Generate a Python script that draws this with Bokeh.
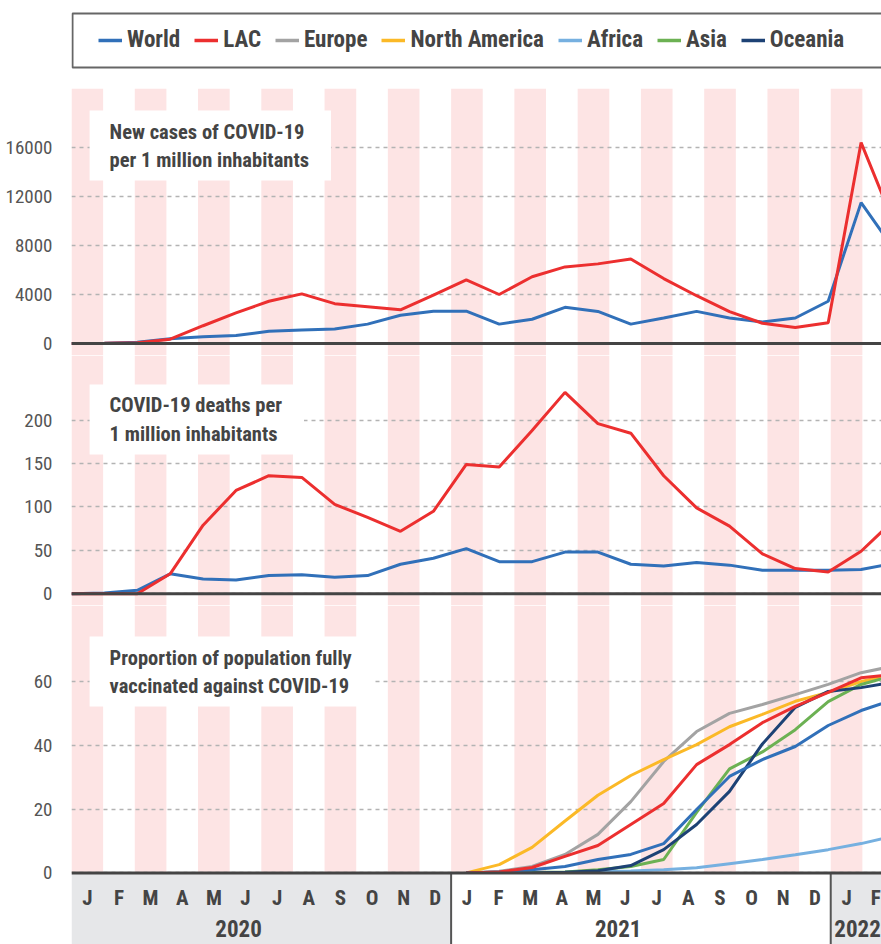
from bokeh.plotting import figure
from bokeh.layouts import column
from bokeh.models import Range1d, FixedTicker, Span, Label, Legend, LegendItem
from bokeh.embed import file_html
from bokeh.resources import INLINE
from bokeh.core.properties import value

FONT = "Roboto Condensed, DejaVu Sans Condensed, Liberation Sans Narrow, Roboto"

# ---------------- data ----------------
month_letters = ["J", "F", "M", "A", "M", "J", "J", "A", "S", "O", "N", "D",
                 "J", "F", "M", "A", "M", "J", "J", "A", "S", "O", "N", "D",
                 "J", "F"]
month_years = ["2020"] * 12 + ["2021"] * 12 + ["2022"] * 2
years = ["2020", "2021", "2022"]

cases_world = [0, 30, 100, 380, 550, 650, 1000, 1100, 1180, 1580, 2300, 2640,
               2640, 1580, 1980, 2950, 2620, 1580, 2080, 2620, 2080, 1750, 2080, 3450,
               11500, 7700]
cases_lac = [0, 10, 60, 350, 1450, 2500, 3450, 4050, 3250, 3000, 2750, 3950,
             5200, 4000, 5450, 6250, 6500, 6900, 5300, 3900, 2600, 1650, 1300, 1700,
             16400, 9800]

deaths_world = [0, 1, 4, 23, 17, 16, 21, 22, 19, 21, 34, 41,
                52, 37, 37, 48, 48, 34, 32, 36, 33, 27, 27, 27,
                28, 35]
deaths_lac = [0, 0, 0, 23, 79, 119, 136, 134, 103, 88, 72, 95,
              149, 146, 188, 232, 196, 185, 136, 99, 78, 46, 29, 25,
              49, 85]

NO_DATA_2020 = [None] * 12
vax_world = NO_DATA_2020 + [0, 0.3, 1.0, 2.0, 4.2, 5.8, 9.2, 19.9, 30.3, 35.6, 39.7, 46.3, 51.0, 54.5]
vax_lac = NO_DATA_2020 + [0, 0.3, 1.7, 5.2, 8.6, 15.2, 21.8, 34.0, 40.3, 47.2, 52.3, 56.7, 61.3, 62.3]
vax_europe = NO_DATA_2020 + [0, 0.5, 2.0, 5.8, 12.1, 22.4, 35.0, 44.4, 50.1, 52.9, 56.0, 59.2, 62.9, 65.0]
vax_north_america = NO_DATA_2020 + [0, 2.6, 8.0, 16.3, 24.4, 30.6, 35.6, 40.3, 45.9, 49.8, 53.9, 56.7, 60.1, 62.5]
vax_africa = NO_DATA_2020 + [0, 0, 0.1, 0.2, 0.4, 0.6, 1.0, 1.6, 2.9, 4.2, 5.7, 7.3, 9.2, 11.6]
vax_asia = NO_DATA_2020 + [0, 0, 0.1, 0.3, 1.0, 2.0, 4.2, 19.0, 32.7, 38.0, 45.0, 53.8, 59.2, 62.0]
vax_oceania = NO_DATA_2020 + [0, 0, 0, 0.2, 0.7, 2.3, 7.3, 15.2, 25.6, 40.5, 52.0, 57.0, 58.2, 60.0]

series_names = ["World", "LAC", "Europe", "North America", "Africa", "Asia", "Oceania"]
cases_ticks = [0, 4000, 8000, 12000, 16000]
deaths_ticks = [0, 50, 100, 150, 200]
vax_ticks = [0, 20, 40, 60]

# ---------------- style ----------------
COLORS = {
    "World": "#3170b9",
    "LAC": "#ec2f2f",
    "Europe": "#a3a3a3",
    "North America": "#fbb927",
    "Africa": "#76b0e0",
    "Asia": "#6cb153",
    "Oceania": "#1d4275",
}
PINK = "#fde4e4"
TXT = "#444444"
W = 881
LEFT = 71

n = len(month_letters)
x_idx = list(range(n))
span = n - 1
bw = span / n  # stripe / category bin width, in line units
x_range = Range1d(0, (W - LEFT) / 32.9)


def nan(v):
    return [float("nan") if a is None else a for a in v]


def panel(height, y0, y1, ticks, title_text, title_y, stripe_bottom=None):
    p = figure(width=W, height=height, x_range=x_range, y_range=Range1d(y0, y1),
               output_backend="svg", toolbar_location=None,
               x_axis_location=None, y_axis_location="left",
               min_border_left=LEFT, min_border_right=0,
               min_border_top=0, min_border_bottom=0)
    p.outline_line_color = None
    sb = y0 if stripe_bottom is None else stripe_bottom
    lefts = [k * bw for k in range(0, n, 2)]
    rights = [(k + 1) * bw for k in range(0, n, 2)]
    p.quad(left=lefts, right=rights, bottom=sb, top=y1, fill_color=PINK,
           line_color=None, level="image")
    ax = p.yaxis[0]
    ax.ticker = FixedTicker(ticks=ticks)
    ax.axis_line_color = None
    ax.major_tick_line_color = None
    ax.minor_tick_line_color = None
    ax.major_tick_in = 0
    ax.major_tick_out = 0
    ax.major_label_standoff = 19
    ax.major_label_text_font = FONT
    ax.major_label_text_font_size = "19px"
    ax.major_label_text_color = "#555555"
    p.xgrid.visible = False
    p.ygrid.grid_line_color = "#b3b3b3"
    p.ygrid.grid_line_dash = "4 4"
    p.ygrid.grid_line_width = 1.5
    p.add_layout(Span(location=0, dimension="width", line_color=TXT, line_width=3))
    p.add_layout(Label(x=0.55, y=title_y, text=title_text, text_align="left",
                       text_baseline="top", text_font=FONT, text_font_size="20.5px",
                       text_font_style="bold", text_color=TXT, text_line_height=1.17,
                       background_fill_color="white",
                       padding=dict(left=20, right=22, top=9, bottom=9)))
    return p


# ---------------- legend strip ----------------
pl = figure(width=W, height=88, x_range=Range1d(0, W - LEFT), y_range=Range1d(0, 88),
            output_backend="svg", toolbar_location=None,
            x_axis_location=None, y_axis_location=None,
            min_border_left=LEFT, min_border_right=0, min_border_top=0, min_border_bottom=0)
pl.outline_line_color = None
pl.xgrid.visible = False
pl.ygrid.visible = False
pl.quad(left=1, right=W, bottom=21, top=75, fill_color=None,
        line_color="#666666", line_width=2)
items = []
for name in series_names:
    r = pl.line(x=[float("nan"), float("nan")], y=[float("nan"), float("nan")],
                line_color=COLORS[name], line_width=3.5)
    items.append(LegendItem(label=name, renderers=[r]))
legend = Legend(items=items, orientation="horizontal", location=(27, 35),
                border_line_color=None, background_fill_alpha=0, padding=0, margin=0,
                spacing=14, label_standoff=5, glyph_width=24, glyph_height=20,
                label_height=24, label_text_font=FONT, label_text_font_size="23px",
                label_text_font_style="bold", label_text_color=TXT)
pl.add_layout(legend)

# ---------------- cases ----------------
p1 = panel(267, -980, 20816, cases_ticks,
           "New cases of COVID-19\nper 1 million inhabitants", 19020)
p1.line(x_idx, cases_world, line_color=COLORS["World"], line_width=3)
p1.line(x_idx, cases_lac, line_color=COLORS["LAC"], line_width=3)

# ---------------- deaths ----------------
p2 = panel(250, -13.5, 274.5, deaths_ticks,
           "COVID-19 deaths per\n1 million inhabitants", 241.1)
p2.line(x_idx, deaths_world, line_color=COLORS["World"], line_width=3)
p2.line(x_idx, deaths_lac, line_color=COLORS["LAC"], line_width=3)

# ---------------- vaccination + month/year axis band ----------------
V0 = -22.5
p3 = panel(339, V0, 84.0, vax_ticks,
           "Proportion of population fully\nvaccinated against COVID-19", 74.25,
           stripe_bottom=0)
vax = {"World": vax_world, "LAC": vax_lac, "Europe": vax_europe,
       "North America": vax_north_america, "Africa": vax_africa,
       "Asia": vax_asia, "Oceania": vax_oceania}
for name in ["Europe", "North America", "Africa", "Asia", "Oceania", "World", "LAC"]:
    p3.line(x_idx, nan(vax[name]), line_color=COLORS[name], line_width=3)

starts, counts = [], []
for y in years:
    starts.append(month_years.index(y))
    counts.append(month_years.count(y))
g_left = [s * bw for s in starts]
g_right = [(s + c) * bw for s, c in zip(starts, counts)]
g_fill = ["#e6e7e9", "#ffffff", "#e6e7e9"]
p3.quad(left=g_left, right=g_right, bottom=V0, top=0, fill_color=g_fill, line_color=None)
p3.segment(x0=g_left[1:], y0=V0, x1=g_left[1:], y1=0, line_color="#555555", line_width=2)

# month letters: centred in their bin, pulled inside at the right edge
m_x, m_align = [], []
for k in range(n):
    c = (k + 0.5) * bw
    if c + 0.2 > x_range.end:
        m_x.append(x_range.end - 0.02)
        m_align.append("right")
    else:
        m_x.append(c)
        m_align.append("center")
p3.text(x=m_x, y=0.357 * V0, text=month_letters, text_align=m_align,
        text_baseline="middle", text_font=value(FONT),
        text_font_size="21px", text_font_style="bold", text_color=TXT)
yr_x, yr_align = [], []
for s, c in zip(starts, counts):
    pos = (s + 0.44 * c) * bw
    if pos + 0.7 > x_range.end:
        yr_x.append(x_range.end - 0.02)
        yr_align.append("right")
    else:
        yr_x.append(pos)
        yr_align.append("center")
p3.text(x=yr_x, y=0.776 * V0, text=years, text_align=yr_align,
        text_baseline="middle", text_font=value(FONT),
        text_font_size="23px", text_font_style="bold", text_color=TXT)

layout = column(pl, p1, p2, p3, spacing=0)
open("out.html", "w").write(file_html(layout, INLINE))
